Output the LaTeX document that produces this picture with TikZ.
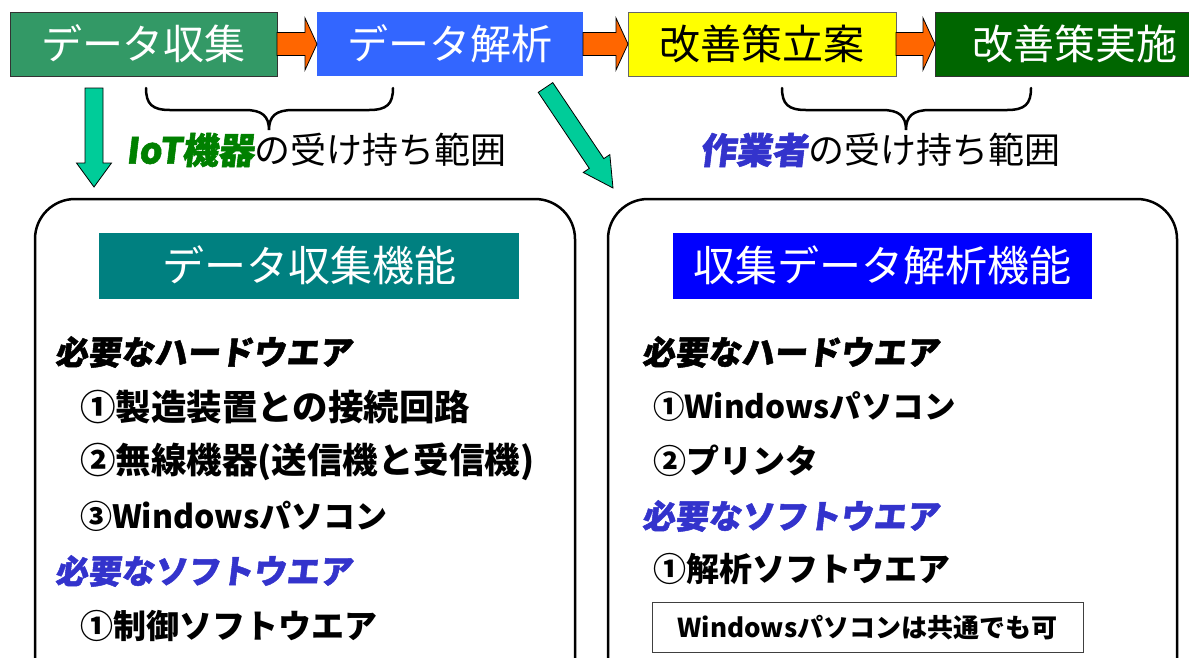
\documentclass[tikz,border=0pt]{standalone}
\usepackage{fontspec}
\setmainfont{Noto Sans CJK JP}
\newfontfamily\pop[FakeSlant=0.12,BoldFeatures={FakeBold=1.5}]{Noto Sans CJK JP}
\usetikzlibrary{calc}
\definecolor{boxgreen}{HTML}{339966}
\definecolor{boxblue}{HTML}{3366FF}
\definecolor{boxyellow}{HTML}{FFFF00}
\definecolor{boxdkgreen}{HTML}{006600}
\definecolor{arrorange}{HTML}{FF6600}
\definecolor{arrteal}{HTML}{00CC99}
\definecolor{titleteal}{HTML}{008080}
\definecolor{titleblue}{HTML}{0000FF}
\definecolor{iotgreen}{HTML}{008000}
\definecolor{swblue}{HTML}{3333CC}
\newcommand\setfs[1]{\fontsize{#1}{#1}\selectfont}
\newcommand\blockarrow[6]{%
  \coordinate (ba-h) at ($(#2)!#5!(#1)$);
  \filldraw[fill=#6, draw=black, line width=0.8pt, line join=miter]
   ($(#1)!#3!90:(#2)$) -- ($(ba-h)!#3!90:(#2)$) -- ($(ba-h)!#4!90:(#2)$) -- (#2)
   -- ($(ba-h)!#4!-90:(#2)$) -- ($(ba-h)!#3!-90:(#2)$) -- ($(#1)!#3!-90:(#2)$) -- cycle;}
\begin{document}
\begin{tikzpicture}[x=1pt,y=-1pt,
  every node/.style={inner sep=0pt,outer sep=0pt},
  topbox/.style={minimum height=64pt, font=\setfs{41}, text=white},
  titlebox/.style={minimum height=66pt, minimum width=420pt, text=white, font=\setfs{42}},
  hdr/.style={anchor=west, font=\pop\bfseries\setfs{33}},
  item/.style={anchor=west, font=\bfseries\setfs{33}},
  brc/.style={line width=2.5pt, line cap=round},
  panel/.style={draw, line width=2.5pt, rounded corners=40pt}]
\useasboundingbox (0,0) rectangle (1189,657);
\clip (0,0) rectangle (1189,657);
\fill[white] (0,0) rectangle (1189,657);

% top process boxes
\node[topbox, fill=boxgreen, draw=black!80, line width=0.8pt, minimum width=267pt] (b1) at (143.5,44) {データ収集};
\node[topbox, fill=boxblue, minimum width=266pt] (b2) at (450,44) {データ解析};
\node[topbox, fill=boxyellow, draw=black!60, line width=0.8pt, minimum width=268pt, text=black] (b3) at (762,44) {改善策立案};
\node[topbox, fill=boxdkgreen, draw=black!80, line width=0.8pt, minimum width=280pt] (b4) at (1075,44) {改善策実施};

% orange arrows
\blockarrow{b1.east}{b2.west}{11.5pt}{26pt}{12pt}{arrorange}
\blockarrow{b2.east}{b3.west}{11.5pt}{26pt}{12pt}{arrorange}
\blockarrow{b3.east}{b4.west}{11.5pt}{26pt}{12pt}{arrorange}

% braces
\draw[brc] (146,88) .. controls (146,104) and (152,110) .. (170,110) -- (245,110)
  .. controls (262,110) and (269,116) .. (269,130)
  .. controls (269,116) and (276,110) .. (293,110) -- (369,110)
  .. controls (387,110) and (393,104) .. (393,88);
\draw[brc] (782,88) .. controls (782,104) and (788,110) .. (806,110) -- (882,110)
  .. controls (899,110) and (906,116) .. (906,130)
  .. controls (906,116) and (913,110) .. (930,110) -- (1007,110)
  .. controls (1025,110) and (1031,104) .. (1031,88);

\node[font=\setfs{36}] (iot) at (316,150) {{\pop\bfseries\color{iotgreen}IoT機器}の受け持ち範囲};
\node[font=\setfs{36}] (wk) at (880,150) {{\pop\bfseries\color{swblue}作業者}の受け持ち範囲};

% teal down arrows
\coordinate (d1s) at (94,88);
\coordinate (d1t) at (94,187);
\blockarrow{d1s}{d1t}{9pt}{17.5pt}{24pt}{arrteal}
\coordinate (d2s) at (545.5,87.5);
\coordinate (d2t) at (613,188);
\blockarrow{d2s}{d2t}{8.75pt}{16pt}{29.5pt}{arrteal}

% panels
\draw[panel] (35,199) rectangle (575,720);
\draw[panel] (608,199) rectangle (1177,720);

\node[titlebox, fill=titleteal] (t1) at (309,265.5) {データ収集機能};
\node[titlebox, fill=titleblue, minimum width=419pt] (t2) at (882.5,265.5) {収集データ解析機能};

% left list
\node[hdr] (l1) at (55,352) {必要なハードウエア};
\node[item, font=\bfseries\setfs{35.5}] (l2) at (80,407) {①製造装置との接続回路};
\node[item, font=\bfseries\setfs{35.5}] (l3) at (80,462) {②無線機器(送信機と受信機)};
\node[item, font=\bfseries\setfs{32}] (l4) at (80,516) {③Windowsパソコン};
\node[hdr, text=swblue] (l5) at (55,571) {必要なソフトウエア};
\node[item] (l6) at (80,626) {①制御ソフトウエア};

% right list
\node[hdr] (r1) at (642,352) {必要なハードウエア};
\node[item, font=\bfseries\setfs{31.5}] (r2) at (653,407) {①Windowsパソコン};
\node[item] (r3) at (653,461) {②プリンタ};
\node[hdr, text=swblue] (r4) at (642,516) {必要なソフトウエア};
\node[item] (r5) at (653,569) {①解析ソフトウエア};
\node[draw=black!75, line width=1pt, minimum width=431pt, minimum height=50pt, font=\bfseries\setfs{26}] (note) at (867.5,627.5) {Windowsパソコンは共通でも可};
\end{tikzpicture}
\end{document}
